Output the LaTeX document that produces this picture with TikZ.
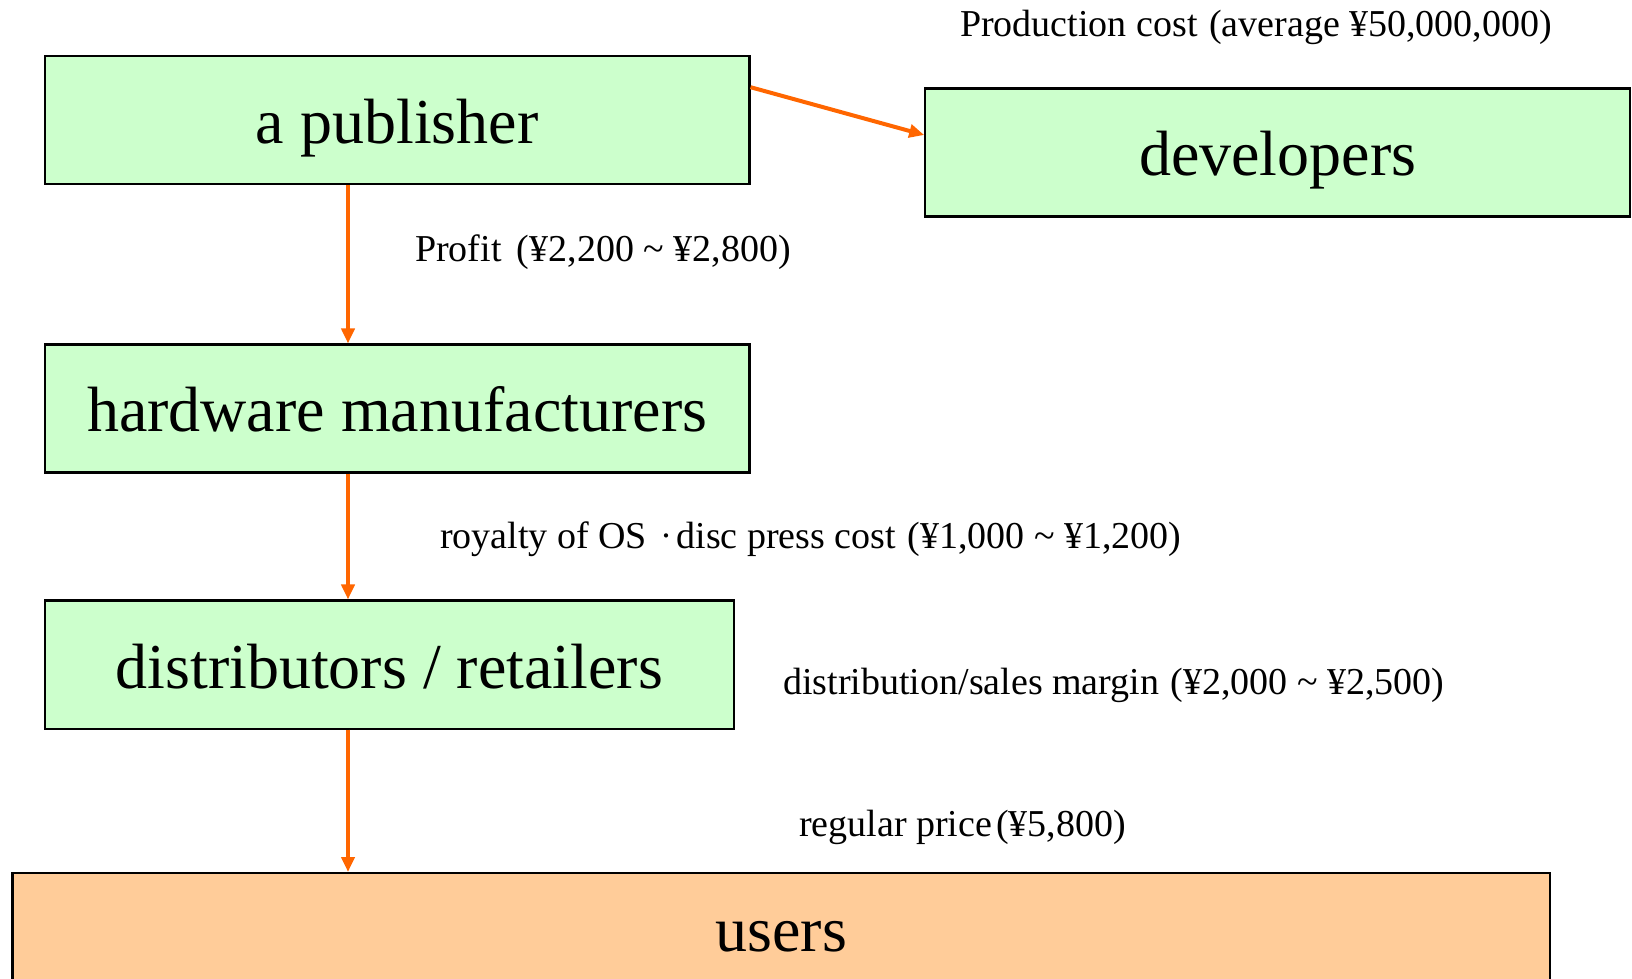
\documentclass[tikz,border=0pt]{standalone}
\usepackage{fontspec}
\setmainfont{Liberation Serif}
\newfontfamily\cjk{Noto Sans CJK JP}
\usetikzlibrary{arrows.meta}
\definecolor{boxgreen}{HTML}{CCFFCC}
\definecolor{boxpeach}{HTML}{FFCC99}
\definecolor{arrorange}{HTML}{FF6600}
\tikzset{
  box/.style={draw=black, line width=2.2pt, fill=boxgreen, anchor=north west,
    minimum height=128pt, inner sep=0pt, text height=50pt, text depth=3.2pt,
    font=\fontsize{64}{70}\selectfont},
  userbox/.style={box, fill=boxpeach, text height=44pt, text depth=16pt},
  lbl/.style={anchor=base west, inner sep=0pt, font=\fontsize{38}{42}\selectfont},
  arr/.style={draw=arrorange, line width=4pt, -{Triangle[length=15pt,width=13pt]}}
}
\newcommand{\tld}{\hspace{0.25em}\textasciitilde\hspace{0.25em}}
\newcommand{\kdot}{{\cjk\fontsize{20}{20}\selectfont\raisebox{5pt}{・}}}
\begin{document}
\begin{tikzpicture}[x=1pt,y=1pt]
\useasboundingbox (0,0) rectangle (1632,978);
\node[box, minimum width=704.6pt] (pub) at (43.7,922.8) {a publisher};
\node[box, minimum width=704.7pt] (dev) at (924.2,890.6) {developers};
\node[box, minimum width=704.6pt] (hw) at (43.7,634.5) {hardware manufacturers};
\node[box, minimum width=689pt] (dist) at (43.7,378.5) {distributors / retailers};
\node[userbox, minimum width=1537.3pt] (users) at (11.4,106) {users};

\node[lbl] (lprod) at (960,941) {Production cost\hspace{0.3em}(average ¥50,000,000)};
\node[lbl] (lprofit) at (415,716) {Profit\hspace{0.4em}(¥2,200\tld¥2,800)};
\node[lbl] (lroy) at (440,429) {royalty of OS\hspace{0.25em}\kdot disc press cost\hspace{0.3em}(¥1,000\tld¥1,200)};
\node[lbl] (ldist) at (783,284) {distribution/sales margin\hspace{0.3em}(¥2,000\tld¥2,500)};
\node[lbl] (lreg) at (799,142) {regular price\hspace{0.1em}(¥5,800)};

\draw[arr] ([yshift=-32pt]pub.north east) -- ([yshift=-47.6pt]dev.north west);
\draw[arr] ([xshift=304.3pt]pub.south west) -- ([xshift=304.3pt]hw.north west);
\draw[arr] ([xshift=304.3pt]hw.south west) -- ([xshift=304.3pt]dist.north west);
\draw[arr] ([xshift=304.3pt]dist.south west) -- ([xshift=304.3pt]dist.south west |- users.north);
\end{tikzpicture}
\end{document}
